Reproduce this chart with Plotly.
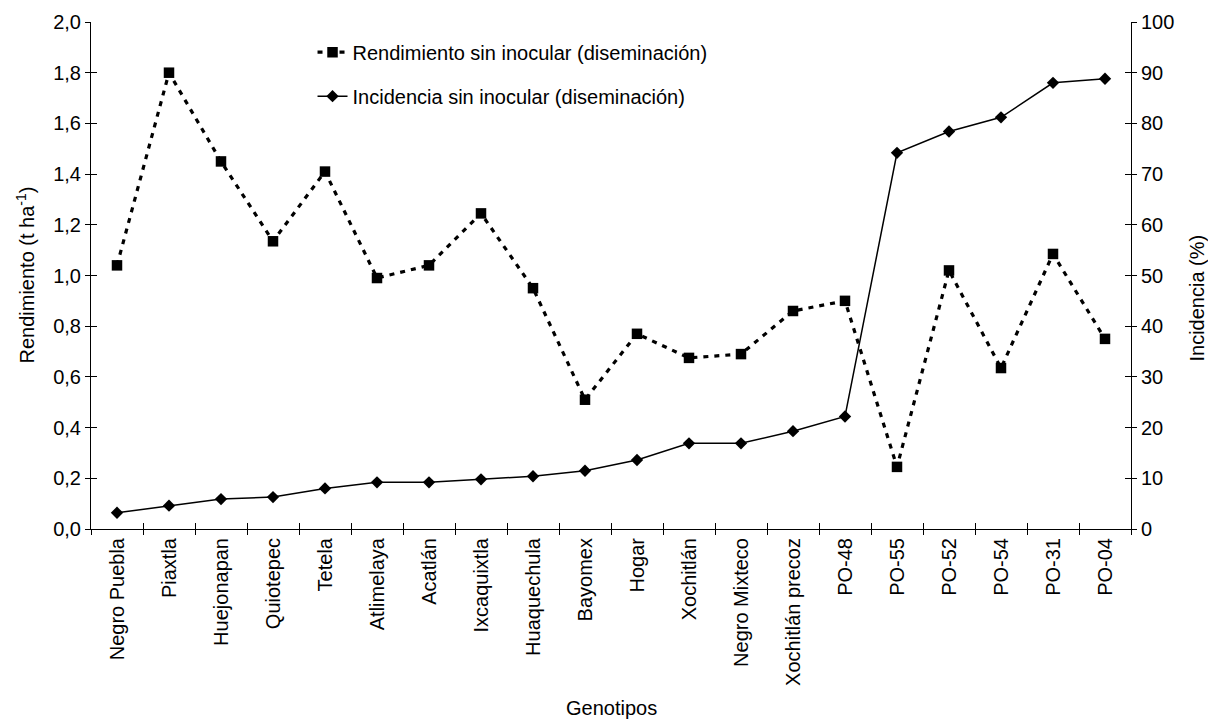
import plotly.graph_objects as go

genotipos = ["Negro Puebla", "Piaxtla", "Huejonapan", "Quiotepec", "Tetela",
             "Atlimelaya", "Acatlán", "Ixcaquixtla", "Huaquechula", "Bayomex",
             "Hogar", "Xochitlán", "Negro Mixteco", "Xochitlán precoz", "PO-48",
             "PO-55", "PO-52", "PO-54", "PO-31", "PO-04"]
rendimiento = [1.04, 1.80, 1.45, 1.135, 1.41, 0.99, 1.04, 1.245, 0.95, 0.51,
               0.77, 0.675, 0.69, 0.86, 0.90, 0.245, 1.02, 0.635, 1.085, 0.75]
incidencia = [3.2, 4.6, 5.9, 6.3, 8.0, 9.2, 9.2, 9.8, 10.4, 11.5,
              13.6, 16.9, 16.9, 19.3, 22.2, 74.2, 78.4, 81.2, 88.0, 88.8]
y_left_ticks = [0, 0.2, 0.4, 0.6, 0.8, 1.0, 1.2, 1.4, 1.6, 1.8, 2.0]
y_right_ticks = [0, 10, 20, 30, 40, 50, 60, 70, 80, 90, 100]

FONT = "Liberation Sans, Arial, sans-serif"
FS = 20

fig = go.Figure()
fig.add_trace(go.Scatter(
    x=genotipos, y=rendimiento, mode="lines+markers",
    name="Rendimiento sin inocular (diseminación)",
    line=dict(color="black", width=3.2, dash="5px,6px"),
    marker=dict(symbol="square", size=10.5, color="black"),
    legendgroup="a", xaxis="x", yaxis="y"))
fig.add_trace(go.Scatter(
    x=genotipos, y=incidencia, mode="lines+markers",
    name="Incidencia sin inocular (diseminación)",
    line=dict(color="black", width=1.5),
    marker=dict(symbol="diamond", size=9.5, color="black"),
    legendgroup="b", xaxis="x", yaxis="y2"))
# invisible helper traces for inner tick marks
fig.add_trace(go.Scatter(x=genotipos, y=rendimiento, mode="none", showlegend=False,
                         hoverinfo="skip", xaxis="x3", yaxis="y3"))
fig.add_trace(go.Scatter(x=genotipos, y=incidencia, mode="none", showlegend=False,
                         hoverinfo="skip", xaxis="x3", yaxis="y4"))

axis_common = dict(showgrid=False, zeroline=False, linecolor="black", linewidth=1,
                   tickcolor="black", tickwidth=1,
                   tickfont=dict(family=FONT, size=FS, color="black"))

fig.update_layout(
    width=1208, height=721,
    margin=dict(l=91, r=77, t=22, b=192),
    paper_bgcolor="white", plot_bgcolor="white",
    separators=",.",
    font=dict(family=FONT, size=FS, color="black"),
    xaxis=dict(axis_common, type="category", range=[-0.5, 19.5],
               ticks="outside", ticklen=5, tickson="boundaries",
               tickangle=-90, showline=True),
    xaxis3=dict(axis_common, type="category", range=[-0.5, 19.5], overlaying="x",
                anchor="y", ticks="inside", ticklen=6, tickson="boundaries",
                showticklabels=False, showline=False, side="bottom"),
    yaxis=dict(axis_common, range=[0, 2.0], tickvals=y_left_ticks, tickformat=".1f",
               ticks="outside", ticklen=5, showline=True),
    yaxis3=dict(axis_common, range=[0, 2.0], tickvals=y_left_ticks, overlaying="y",
                anchor="x", ticks="inside", ticklen=6, showticklabels=False,
                showline=False, side="left"),
    yaxis2=dict(axis_common, range=[0, 100], tickvals=y_right_ticks, overlaying="y",
                side="right", anchor="x", ticks="outside", ticklen=5, showline=True),
    yaxis4=dict(axis_common, range=[0, 100], tickvals=y_right_ticks, overlaying="y",
                side="right", anchor="x", ticks="inside", ticklen=6,
                showticklabels=False, showline=False),
    legend=dict(x=0.213, y=0.979, xanchor="left", yanchor="top",
                bgcolor="rgba(0,0,0,0)", tracegroupgap=15,
                font=dict(family=FONT, size=FS, color="black")),
    showlegend=True,
)

fig.add_annotation(text="Genotipos", xref="paper", yref="paper", x=0.5, y=0,
                   yshift=-179, showarrow=False, yanchor="middle",
                   font=dict(family=FONT, size=FS, color="black"))
fig.add_annotation(text="Rendimiento (t ha<sup>-1</sup>)", xref="paper", yref="paper",
                   x=0, y=0.5, xshift=-66, yshift=0, textangle=-90, showarrow=False,
                   xanchor="center", yanchor="middle",
                   font=dict(family=FONT, size=FS, color="black"))
fig.add_annotation(text="Incidencia (%)", xref="paper", yref="paper",
                   x=1, y=0.5, xshift=65, yshift=-23, textangle=-90, showarrow=False,
                   xanchor="center", yanchor="middle",
                   font=dict(family=FONT, size=FS, color="black"))

fig.write_html("out.html")
